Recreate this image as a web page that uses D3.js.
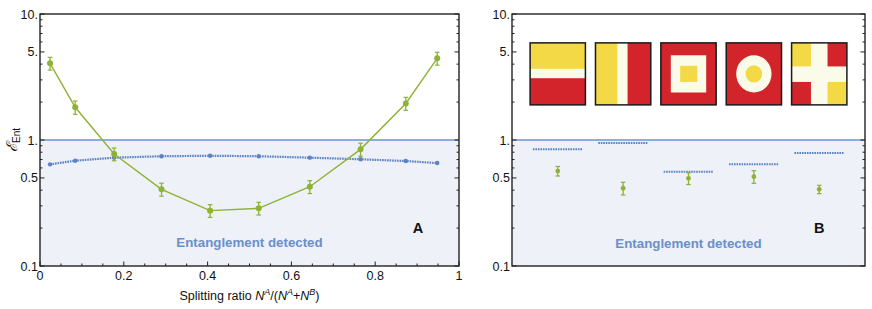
<!DOCTYPE html>
<html>
<head>
<meta charset="utf-8">
<script src="https://cdn.jsdelivr.net/npm/d3@7"></script>
<style>
  body { margin: 0; background: #fff; }
  svg { font-family: "Liberation Sans", Arial, sans-serif; }
</style>
</head>
<body>
<div id="chart"></div>
<script>
// Panel A data: splitting ratio scan
var ratioA = [0.024, 0.084, 0.177, 0.29, 0.406, 0.522, 0.644, 0.765, 0.873, 0.948];
var entA = [4.06, 1.82, 0.774, 0.406, 0.275, 0.287, 0.426, 0.843, 1.95, 4.45];
var errA = [0.47, 0.22, 0.09, 0.048, 0.032, 0.033, 0.05, 0.1, 0.23, 0.52];
var boundA = [0.641, 0.685, 0.724, 0.743, 0.75, 0.743, 0.724, 0.703, 0.681, 0.656];

// Panel B data: five partitions
var partitions = ["stripeH", "stripeV", "square", "ring", "cross"];
var boundB = [0.843, 0.947, 0.561, 0.641, 0.79];
var entB = [0.567, 0.414, 0.496, 0.512, 0.406];
var errB = [0.049, 0.048, 0.053, 0.059, 0.031];

// Axis ticks
var yMajor = [0.1, 0.5, 1, 5, 10];
var yLabels = ["0.1", "0.5", "1.", "5.", "10."];
var yMinor = [0.2, 0.3, 0.4, 0.6, 0.7, 0.8, 0.9, 2, 3, 4, 6, 7, 8, 9];
var xMajor = [0, 0.2, 0.4, 0.6, 0.8, 1];
var xLabels = ["0", "0.2", "0.4", "0.6", "0.8", "1"];

var W = 872, H = 309;
var plotTop = 14, plotBottom = 266;
var green = "#8db236", blue = "#5b82c4", fillBlue = "#eef1f7", lineBlue = "#6b92d0";
var yellow = "#f3d946", red = "#d3232b", cream = "#fbfbea";

var svg = d3.select("#chart").append("svg")
    .attr("width", W)
    .attr("height", H);

var y = d3.scaleLog().domain([0.1, 10]).range([plotBottom, plotTop]);

// Shared frame: shaded region, y=1 line, ticks on left and right
function drawFrame(g, x0, x1, clipId) {
    g.append("clipPath").attr("id", clipId)
        .append("rect").attr("x", x0).attr("y", plotTop)
        .attr("width", x1 - x0).attr("height", plotBottom - plotTop);

    g.append("rect")
        .attr("x", x0).attr("y", y(1))
        .attr("width", x1 - x0).attr("height", plotBottom - y(1))
        .attr("fill", fillBlue);
    g.append("line")
        .attr("x1", x0).attr("x2", x1)
        .attr("y1", y(1)).attr("y2", y(1))
        .attr("stroke", lineBlue).attr("stroke-width", 1.5);

    // y ticks, inward on both sides
    [[x0, 1], [x1, -1]].forEach(function(side) {
        g.selectAll(null).data(yMajor.concat(yMinor)).enter()
            .append("line")
            .attr("x1", side[0])
            .attr("x2", function(d) { return side[0] + side[1] * (yMajor.indexOf(d) >= 0 ? 4.5 : 2.5); })
            .attr("y1", function(d) { return y(d); })
            .attr("y2", function(d) { return y(d); })
            .attr("stroke", "#222").attr("stroke-width", 1);
    });

    g.selectAll(null).data(yMajor).enter()
        .append("text")
        .attr("x", x0 - 2)
        .attr("y", function(d) { return y(d) + 4.5; })
        .attr("text-anchor", "end")
        .attr("font-size", 12.5)
        .attr("fill", "#111")
        .text(function(d, i) { return yLabels[i]; });
}

function drawBorder(g, x0, x1) {
    g.append("rect")
        .attr("x", x0).attr("y", plotTop)
        .attr("width", x1 - x0).attr("height", plotBottom - plotTop)
        .attr("fill", "none").attr("stroke", "#222").attr("stroke-width", 1.4);
}

// ---------- Panel A ----------
var ax0 = 40, ax1 = 459;
var xA = d3.scaleLinear().domain([0, 1]).range([ax0, ax1]);
var gA = svg.append("g");
drawFrame(gA, ax0, ax1, "clipA");

// x ticks at bottom, pointing up
var xMinor = d3.range(0, 1.0001, 0.05).map(function(d) { return +d.toFixed(2); });
gA.selectAll(null).data(xMinor).enter()
    .append("line")
    .attr("x1", function(d) { return xA(d); })
    .attr("x2", function(d) { return xA(d); })
    .attr("y1", plotBottom)
    .attr("y2", function(d) { return plotBottom - (Math.abs(d * 5 - Math.round(d * 5)) < 1e-6 ? 4.5 : 2.5); })
    .attr("stroke", "#222");

gA.selectAll(null).data(xMajor).enter()
    .append("text")
    .attr("x", function(d) { return xA(d); })
    .attr("y", 280)
    .attr("text-anchor", "middle")
    .attr("font-size", 12.5)
    .attr("fill", "#111")
    .text(function(d, i) { return xLabels[i]; });

var xTitle = gA.append("text")
    .attr("x", (ax0 + ax1) / 2)
    .attr("y", 300)
    .attr("text-anchor", "middle")
    .attr("font-size", 12.5)
    .attr("fill", "#111");
xTitle.append("tspan").text("Splitting ratio ");
xTitle.append("tspan").attr("font-style", "italic").text("N");
xTitle.append("tspan").attr("font-size", 9).attr("dy", -5).attr("font-style", "italic").text("A");
xTitle.append("tspan").attr("dy", 5).text("/(");
xTitle.append("tspan").attr("font-style", "italic").text("N");
xTitle.append("tspan").attr("font-size", 9).attr("dy", -5).attr("font-style", "italic").text("A");
xTitle.append("tspan").attr("dy", 5).text("+");
xTitle.append("tspan").attr("font-style", "italic").text("N");
xTitle.append("tspan").attr("font-size", 9).attr("dy", -5).attr("font-style", "italic").text("B");
xTitle.append("tspan").attr("dy", 5).text(")");

// y title, rotated
var yTitle = svg.append("text")
    .attr("transform", "translate(17,140) rotate(-90)")
    .attr("text-anchor", "middle")
    .attr("font-size", 15)
    .attr("fill", "#111");
yTitle.append("tspan").attr("font-family", "DejaVu Serif").attr("font-style", "italic").text("\u2130");
yTitle.append("tspan").attr("font-size", 10).attr("dy", 3).text("Ent");

var plotA = gA.append("g").attr("clip-path", "url(#clipA)");

// blue bound line, dotted
plotA.append("path")
    .datum(boundA)
    .attr("fill", "none")
    .attr("stroke", blue)
    .attr("stroke-width", 2.2)
    .attr("stroke-dasharray", "1.6,0.9")
    .attr("d", d3.line()
        .x(function(d, i) { return xA(ratioA[i]); })
        .y(function(d) { return y(d); }));
plotA.selectAll(null).data(boundA).enter()
    .append("circle")
    .attr("cx", function(d, i) { return xA(ratioA[i]); })
    .attr("cy", function(d) { return y(d); })
    .attr("r", 2.2)
    .attr("fill", blue);

// green measured line
plotA.append("path")
    .datum(entA)
    .attr("fill", "none")
    .attr("stroke", green)
    .attr("stroke-width", 1.4)
    .attr("d", d3.line()
        .x(function(d, i) { return xA(ratioA[i]); })
        .y(function(d) { return y(d); }));

function errorBars(g, xs, vals, errs, r) {
    var eg = g.selectAll(null).data(vals).enter().append("g");
    eg.append("line")
        .attr("x1", function(d, i) { return xs(i); })
        .attr("x2", function(d, i) { return xs(i); })
        .attr("y1", function(d, i) { return y(d - errs[i]); })
        .attr("y2", function(d, i) { return y(d + errs[i]); })
        .attr("stroke", green).attr("stroke-width", 1.3);
    [-1, 1].forEach(function(s) {
        eg.append("line")
            .attr("x1", function(d, i) { return xs(i) - 2.3; })
            .attr("x2", function(d, i) { return xs(i) + 2.3; })
            .attr("y1", function(d, i) { return y(d + s * errs[i]); })
            .attr("y2", function(d, i) { return y(d + s * errs[i]); })
            .attr("stroke", green).attr("stroke-width", 1.2);
    });
    eg.append("circle")
        .attr("cx", function(d, i) { return xs(i); })
        .attr("cy", function(d) { return y(d); })
        .attr("r", r)
        .attr("fill", green);
}
errorBars(plotA, function(i) { return xA(ratioA[i]); }, entA, errA, 3);

gA.append("text")
    .attr("x", (ax0 + ax1) / 2).attr("y", 247)
    .attr("text-anchor", "middle")
    .attr("font-size", 13.3).attr("font-weight", "bold")
    .attr("fill", "#6a8fcc")
    .text("Entanglement detected");
gA.append("text")
    .attr("x", 418).attr("y", 233)
    .attr("text-anchor", "middle")
    .attr("font-size", 14.5).attr("font-weight", "bold")
    .attr("fill", "#111")
    .text("A");
drawBorder(gA, ax0, ax1);

// ---------- Panel B ----------
var bx0 = 512, bx1 = 865;
var xB = d3.scaleLinear().domain([0.3, 5.7]).range([bx0, bx1]);
var gB = svg.append("g");
drawFrame(gB, bx0, bx1, "clipB");
var plotB = gB.append("g").attr("clip-path", "url(#clipB)");

// bound segments
plotB.selectAll(null).data(boundB).enter()
    .append("line")
    .attr("x1", function(d, i) { return xB(i + 1 - 0.38); })
    .attr("x2", function(d, i) { return xB(i + 1 + 0.38); })
    .attr("y1", function(d) { return y(d); })
    .attr("y2", function(d) { return y(d); })
    .attr("stroke", blue)
    .attr("stroke-width", 2)
    .attr("stroke-dasharray", "1.6,0.9");

errorBars(plotB, function(i) { return xB(i + 1); }, entB, errB, 2.4);

// partition icons
var iconTop = 5.9, iconBottom = 1.9, iconHalf = 0.423;
partitions.forEach(function(p, i) {
    var ix = d3.scaleLinear().domain([0, 1]).range([xB(i + 1 - iconHalf), xB(i + 1 + iconHalf)]);
    var iy = d3.scaleLinear().domain([0, 1]).range([y(iconTop), y(iconBottom)]);
    var g = plotB.append("g");
    function box(x0, y0, x1, y1, c) {
        g.append("rect")
            .attr("x", ix(x0)).attr("y", iy(y0))
            .attr("width", ix(x1) - ix(x0)).attr("height", iy(y1) - iy(y0))
            .attr("fill", c);
    }
    if (p === "stripeH") {
        box(0, 0, 1, 0.42, yellow);
        box(0, 0.42, 1, 0.57, cream);
        box(0, 0.57, 1, 1, red);
    } else if (p === "stripeV") {
        box(0, 0, 0.4, 1, yellow);
        box(0.4, 0, 0.58, 1, cream);
        box(0.58, 0, 1, 1, red);
    } else if (p === "square") {
        box(0, 0, 1, 1, red);
        box(0.18, 0.2, 0.82, 0.8, cream);
        box(0.35, 0.37, 0.66, 0.63, yellow);
    } else if (p === "ring") {
        box(0, 0, 1, 1, red);
        g.append("ellipse").attr("cx", ix(0.5)).attr("cy", iy(0.5))
            .attr("rx", ix(0.32) - ix(0)).attr("ry", iy(0.3) - iy(0)).attr("fill", cream);
        g.append("ellipse").attr("cx", ix(0.5)).attr("cy", iy(0.5))
            .attr("rx", ix(0.15) - ix(0)).attr("ry", iy(0.14) - iy(0)).attr("fill", yellow);
    } else {
        box(0, 0, 1, 1, cream);
        box(0, 0, 0.35, 0.38, yellow);
        box(0.65, 0, 1, 0.38, red);
        box(0, 0.63, 0.35, 1, red);
        box(0.65, 0.63, 1, 1, yellow);
    }
    g.append("rect")
        .attr("x", ix(0)).attr("y", iy(0))
        .attr("width", ix(1) - ix(0)).attr("height", iy(1) - iy(0))
        .attr("fill", "none").attr("stroke", "#1a1a1a").attr("stroke-width", 1.5);
});

gB.append("text")
    .attr("x", (bx0 + bx1) / 2).attr("y", 248)
    .attr("text-anchor", "middle")
    .attr("font-size", 13.3).attr("font-weight", "bold")
    .attr("fill", "#6a8fcc")
    .text("Entanglement detected");
gB.append("text")
    .attr("x", xB(5)).attr("y", 233)
    .attr("text-anchor", "middle")
    .attr("font-size", 14.5).attr("font-weight", "bold")
    .attr("fill", "#111")
    .text("B");
drawBorder(gB, bx0, bx1);
</script>
</body>
</html>
